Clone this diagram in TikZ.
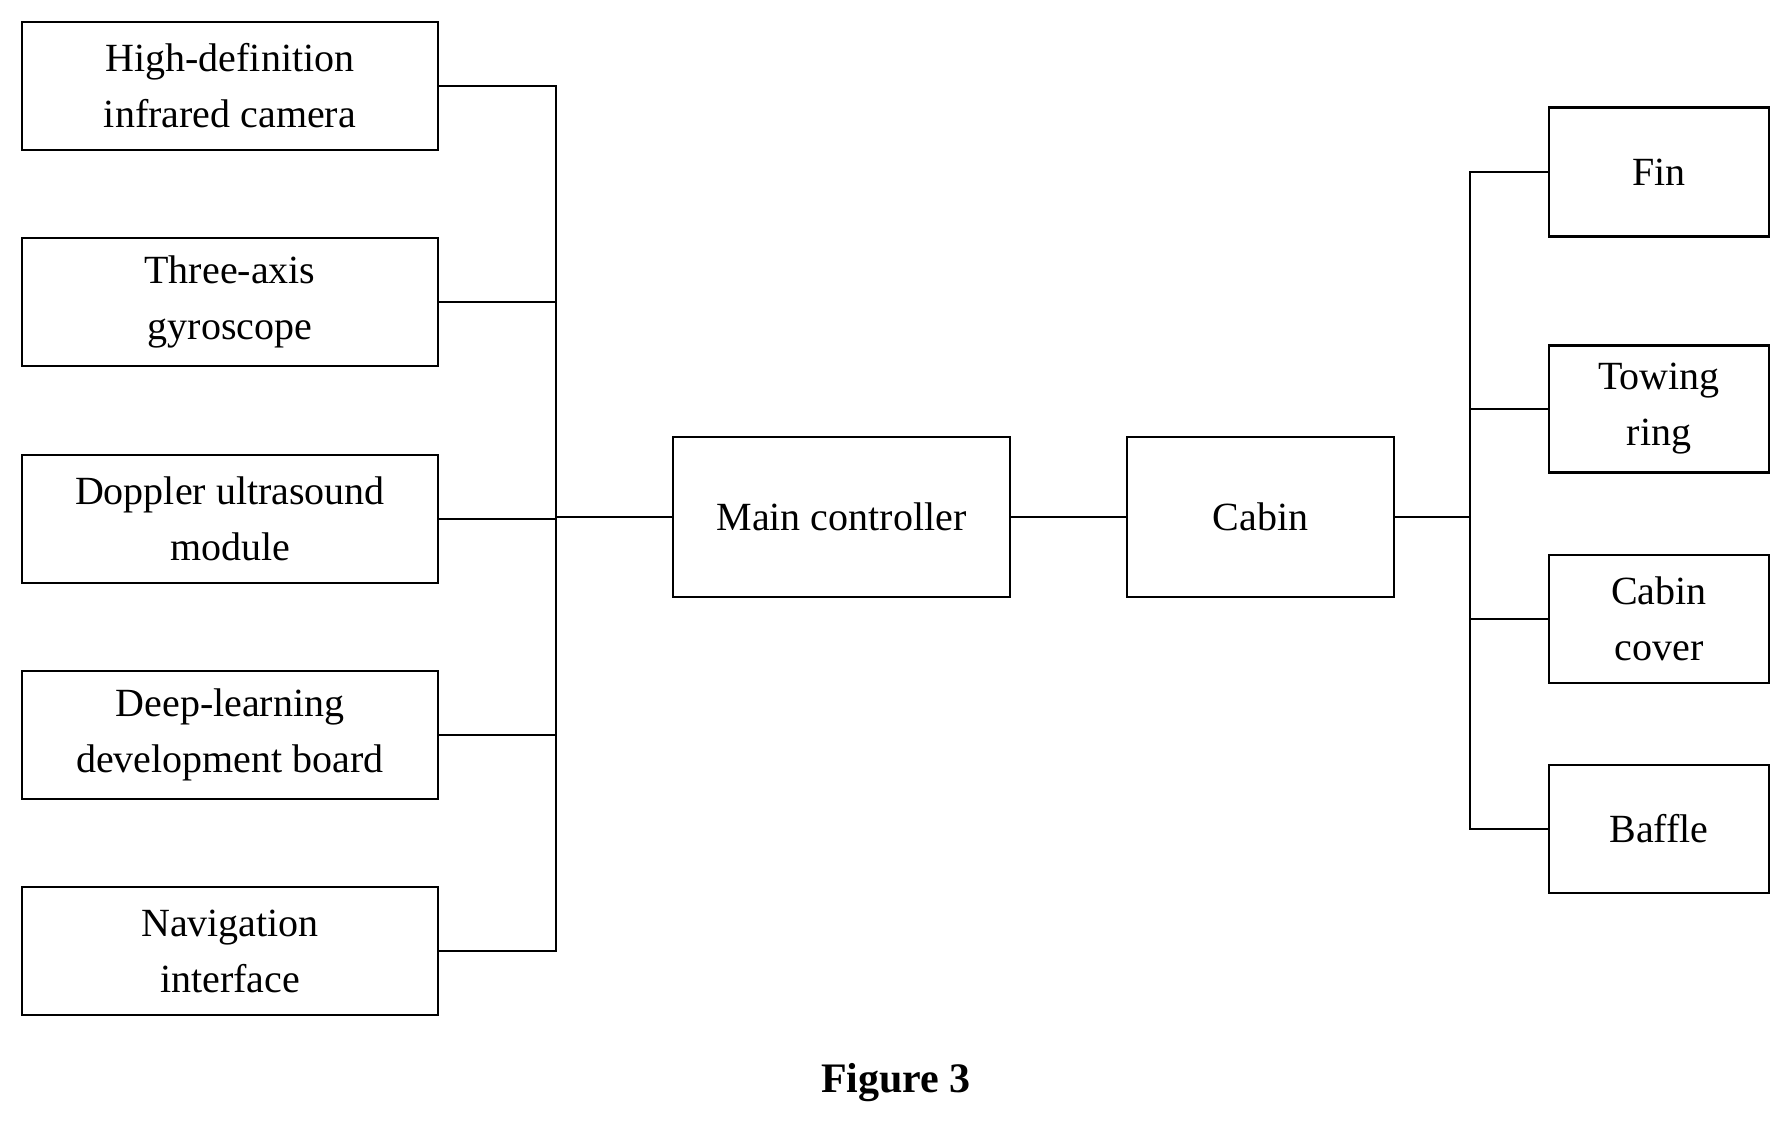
\documentclass[tikz,border=0pt]{standalone}
\usepackage{fontspec}
\setmainfont{Liberation Serif}
\begin{document}
\begin{tikzpicture}[x=1pt,y=-1pt,
  box/.style={draw,line width=2.5pt,inner sep=0pt,align=center,font=\fontsize{40}{56}\selectfont},
  ln/.style={line width=2.5pt}]
\useasboundingbox (0,0) rectangle (1792,1131);
\node[box,minimum width=416,minimum height=128] (a) at (230,86) {High-definition\\infrared camera};
\node[box,minimum width=416,minimum height=128] (b) at (230,302) {Three-axis\\gyroscope};
\node[box,minimum width=416,minimum height=128] (c) at (230,519) {Doppler ultrasound\\module};
\node[box,minimum width=416,minimum height=128] (d) at (230,735) {Deep-learning\\development board};
\node[box,minimum width=416,minimum height=128] (e) at (230,951) {Navigation\\interface};
\node[box,minimum width=337,minimum height=160] (m) at (841.5,517) {Main controller};
\node[box,minimum width=267,minimum height=160] (k) at (1260.5,517) {Cabin};
\node[box,minimum width=220,minimum height=129] (f) at (1659,172) {Fin};
\node[box,minimum width=220,minimum height=127] (t) at (1659,409) {Towing\\ring};
\node[box,minimum width=220,minimum height=128] (cc) at (1659,619) {Cabin\\cover};
\node[box,minimum width=220,minimum height=128] (bf) at (1659,829) {Baffle};
\coordinate (lt) at (556,517);
\coordinate (rt) at (1470,517);
\foreach \n in {a,b,c,d,e} \draw[ln] (\n.east) -| (lt);
\draw[ln] (lt) -- (m.west);
\draw[ln] (m.east) -- (k.west);
\draw[ln] (k.east) -- (rt);
\foreach \n in {f,t,cc,bf} \draw[ln] (\n.west) -| (rt);
\node[font=\fontsize{42}{50}\selectfont\bfseries] (cap) at (896,1083) {Figure 3};
\end{tikzpicture}
\end{document}
